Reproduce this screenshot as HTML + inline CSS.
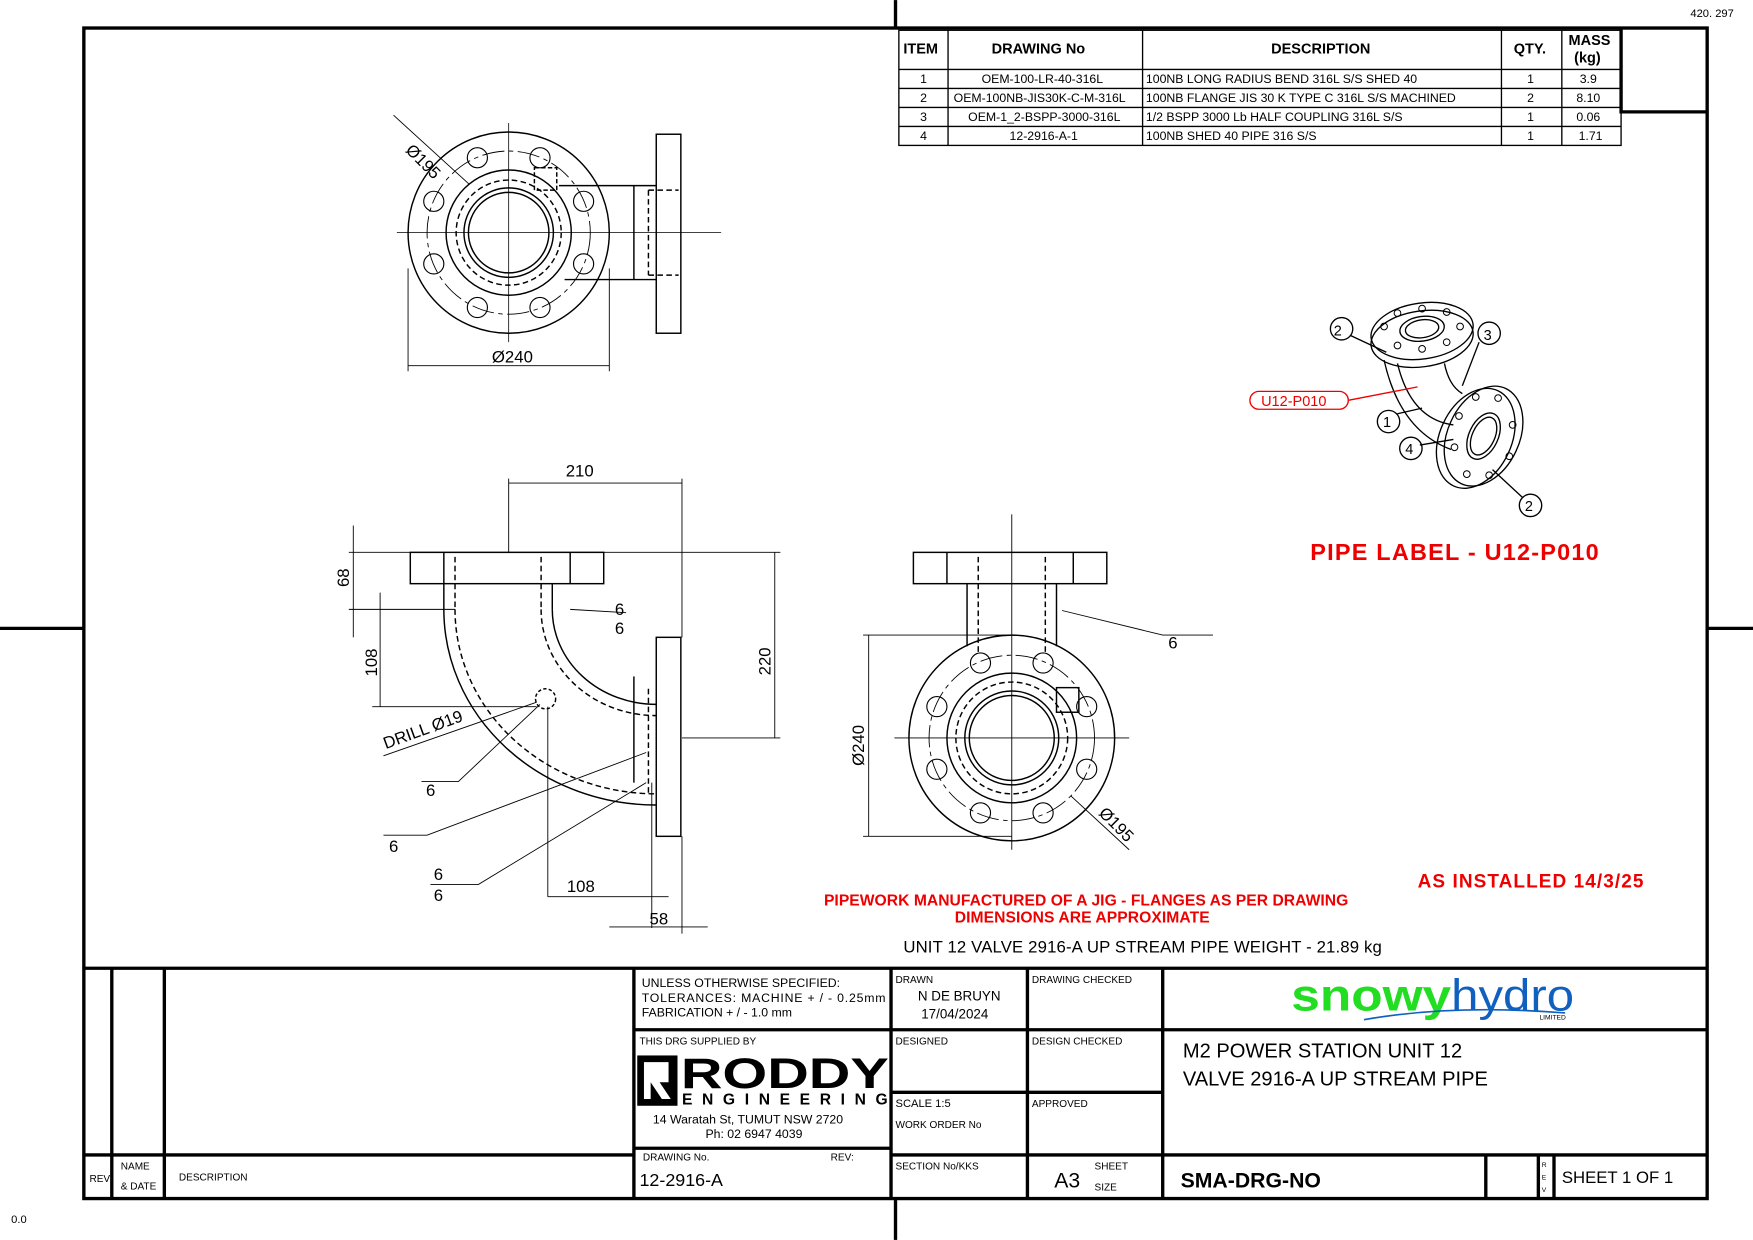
<!DOCTYPE html>
<html><head><meta charset="utf-8"><style>
html,body{margin:0;padding:0;background:#fff}
svg{display:block}
text{font-family:"Liberation Sans",sans-serif;fill:#000}
</style></head><body>
<svg width="1753" height="1240" viewBox="0 0 1568 1109" xmlns="http://www.w3.org/2000/svg">
<rect x="0" y="0" width="1568" height="1109" fill="#fff"/>
<g stroke="#000" fill="none">
<rect x="75" y="25" width="1452" height="1047" stroke-width="3"/>
<line x1="801" y1="0" x2="801" y2="25" stroke-width="3"/>
<line x1="801" y1="1072" x2="801" y2="1109" stroke-width="3"/>
<line x1="0" y1="562" x2="75" y2="562" stroke-width="3"/>
<line x1="1527" y1="562" x2="1568" y2="562" stroke-width="3"/>
<g stroke-width="1.2">
<rect x="804" y="27" width="646" height="103"/>
<line x1="804" y1="62" x2="1450" y2="62"/><line x1="804" y1="79" x2="1450" y2="79"/>
<line x1="804" y1="96" x2="1450" y2="96"/><line x1="804" y1="113" x2="1450" y2="113"/>
<line x1="848" y1="27" x2="848" y2="130"/><line x1="1022" y1="27" x2="1022" y2="130"/>
<line x1="1343" y1="27" x2="1343" y2="130"/><line x1="1397" y1="27" x2="1397" y2="130"/>
</g>
<path d="M1450 25 V100 H1527" stroke-width="3"/>
<g stroke-width="3">
<line x1="75" y1="866" x2="1527" y2="866"/>
<line x1="100" y1="866" x2="100" y2="1072"/><line x1="147" y1="866" x2="147" y2="1072"/>
<line x1="567" y1="866" x2="567" y2="1072"/><line x1="797" y1="866" x2="797" y2="1072"/>
<line x1="919" y1="866" x2="919" y2="1072"/><line x1="1040" y1="866" x2="1040" y2="1072"/>
<line x1="75" y1="1033" x2="567" y2="1033"/>
<line x1="567" y1="921" x2="1527" y2="921"/>
<line x1="567" y1="1027" x2="797" y2="1027"/>
<line x1="797" y1="977" x2="1040" y2="977"/>
<line x1="797" y1="1033" x2="1527" y2="1033"/>
<line x1="1329" y1="1033" x2="1329" y2="1072"/><line x1="1376" y1="1033" x2="1376" y2="1072"/>
<line x1="1390" y1="1033" x2="1390" y2="1072"/>
</g>
<g stroke-width="1.3">
<circle cx="455" cy="208" r="90"/>
<circle cx="455" cy="208" r="56"/>
<circle cx="455" cy="208" r="47" stroke-dasharray="5 3"/>
<circle cx="455" cy="208" r="40"/>
<circle cx="455" cy="208" r="36"/>
<circle cx="455" cy="208" r="73" stroke-dasharray="20 4 4 4" stroke-width="0.8"/>
<g stroke-width="1">
<circle cx="522" cy="180" r="9"/><circle cx="522" cy="236" r="9"/><circle cx="388" cy="180" r="9"/><circle cx="388" cy="236" r="9"/>
<circle cx="427" cy="141" r="9"/><circle cx="483" cy="141" r="9"/><circle cx="427" cy="275" r="9"/><circle cx="483" cy="275" r="9"/>
</g>
<line x1="455" y1="110" x2="455" y2="306" stroke-width="0.7"/>
<line x1="355" y1="208" x2="645" y2="208" stroke-width="0.7"/>
<rect x="587" y="120" width="22" height="178"/>
<line x1="500" y1="166" x2="587" y2="166"/><line x1="505" y1="250" x2="587" y2="250"/>
<line x1="567" y1="166" x2="567" y2="250"/>
<line x1="580" y1="170" x2="607" y2="170" stroke-dasharray="5 3"/><line x1="580" y1="246" x2="607" y2="246" stroke-dasharray="5 3"/>
<line x1="580" y1="170" x2="580" y2="246" stroke-dasharray="5 3"/>
<rect x="478" y="150" width="20" height="20" stroke-dasharray="4 2"/>
<line x1="352" y1="103" x2="420" y2="165" stroke-width="0.8"/>
<line x1="365" y1="240" x2="365" y2="332" stroke-width="0.8"/><line x1="545" y1="240" x2="545" y2="332" stroke-width="0.8"/>
<line x1="365" y1="327" x2="545" y2="327" stroke-width="0.8"/>
</g>
<g stroke-width="1.3">
<rect x="367" y="494" width="173" height="28"/>
<line x1="397" y1="494" x2="397" y2="522"/><line x1="510" y1="494" x2="510" y2="522"/>
<line x1="407" y1="498" x2="407" y2="545" stroke-dasharray="5 3"/><line x1="484" y1="498" x2="484" y2="545" stroke-dasharray="5 3"/>
<line x1="397" y1="522" x2="397" y2="545"/><line x1="494" y1="522" x2="494" y2="545"/>
<path d="M397 545 A190 175 0 0 0 587 720"/>
<path d="M494 545 A93 85 0 0 0 587 630"/>
<path d="M407 545 A180 165 0 0 0 587 710" stroke-dasharray="5 3"/>
<path d="M484 545 A103 95 0 0 0 587 640" stroke-dasharray="5 3"/>
<rect x="587" y="570" width="22" height="178"/>
<line x1="567" y1="605" x2="567" y2="700"/>
<line x1="580" y1="616" x2="580" y2="710" stroke-dasharray="5 3"/>
<circle cx="488" cy="625" r="9" stroke-dasharray="3 2"/>
</g>
<g stroke-width="0.8">
<line x1="455" y1="428" x2="455" y2="494"/><line x1="610" y1="428" x2="610" y2="570"/>
<line x1="455" y1="432" x2="610" y2="432"/>
<line x1="312" y1="494" x2="698" y2="494"/><line x1="312" y1="545" x2="407" y2="545"/>
<line x1="316" y1="470" x2="316" y2="570"/>
<line x1="340" y1="530" x2="340" y2="632"/><line x1="333" y1="632" x2="480" y2="632"/>
<line x1="610" y1="660" x2="698" y2="660"/><line x1="693" y1="494" x2="693" y2="660"/>
<line x1="343" y1="676" x2="480" y2="628"/>
<line x1="490" y1="632" x2="490" y2="802"/><line x1="583" y1="700" x2="583" y2="830"/>
<line x1="490" y1="802" x2="598" y2="802"/>
<line x1="545" y1="829" x2="633" y2="829"/><line x1="610" y1="748" x2="610" y2="835"/>
<path d="M377 699 H410 L483 630"/><path d="M343 747 H382 L578 673"/><path d="M385 791 H428 L578 700"/>
<path d="M510 545 L560 548"/>
</g>
<g stroke-width="1.3">
<rect x="817" y="494" width="173" height="28"/>
<line x1="847" y1="494" x2="847" y2="522"/><line x1="960" y1="494" x2="960" y2="522"/>
<line x1="865" y1="522" x2="865" y2="578"/><line x1="945" y1="522" x2="945" y2="578"/>
<line x1="875" y1="498" x2="875" y2="585" stroke-dasharray="5 3"/><line x1="935" y1="498" x2="935" y2="585" stroke-dasharray="5 3"/>
<circle cx="905" cy="660" r="92"/>
<circle cx="905" cy="660" r="58"/>
<circle cx="905" cy="660" r="50" stroke-dasharray="5 3"/>
<circle cx="905" cy="660" r="42"/><circle cx="905" cy="660" r="38"/>
<circle cx="905" cy="660" r="74" stroke-dasharray="20 4 4 4" stroke-width="0.8"/>
<g stroke-width="1">
<circle cx="972" cy="632" r="9"/><circle cx="972" cy="688" r="9"/><circle cx="838" cy="632" r="9"/><circle cx="838" cy="688" r="9"/>
<circle cx="877" cy="593" r="9"/><circle cx="933" cy="593" r="9"/><circle cx="877" cy="727" r="9"/><circle cx="933" cy="727" r="9"/>
</g>
<rect x="945" y="615" width="20" height="22"/>
</g>
<g stroke-width="0.8">
<line x1="905" y1="460" x2="905" y2="760"/><line x1="800" y1="660" x2="1010" y2="660"/>
<line x1="772" y1="568" x2="905" y2="568"/><line x1="772" y1="748" x2="905" y2="748"/>
<line x1="777" y1="568" x2="777" y2="748"/>
<path d="M950 546 L1040 568 H1085"/>
<line x1="958" y1="712" x2="1010" y2="760"/>
</g>
<!-- ISO -->
<g stroke-width="1.2">
<ellipse cx="1272" cy="296" rx="46" ry="25" transform="rotate(-8 1272 296)"/>
<ellipse cx="1272" cy="303" rx="46" ry="25" transform="rotate(-8 1272 303)"/>
<ellipse cx="1272" cy="294" rx="20" ry="11" transform="rotate(-8 1272 294)"/>
<ellipse cx="1272" cy="294" rx="15" ry="8" transform="rotate(-8 1272 294)"/>
<g stroke-width="0.9">
<circle cx="1238" cy="292" r="3"/><circle cx="1306" cy="292" r="3"/><circle cx="1250" cy="280" r="3"/><circle cx="1294" cy="279" r="3"/>
<circle cx="1250" cy="309" r="3"/><circle cx="1294" cy="306" r="3"/><circle cx="1272" cy="276" r="3"/><circle cx="1272" cy="312" r="3"/>
</g>
<ellipse cx="1327" cy="390" rx="32" ry="47" transform="rotate(25 1327 390)"/>
<ellipse cx="1320" cy="392" rx="32" ry="47" transform="rotate(25 1320 392)"/>
<ellipse cx="1327" cy="390" rx="13" ry="22" transform="rotate(25 1327 390)"/>
<ellipse cx="1327" cy="390" rx="10" ry="18" transform="rotate(25 1327 390)"/>
<g stroke-width="0.9">
<circle cx="1340" cy="356" r="3"/><circle cx="1353" cy="380" r="3"/><circle cx="1350" cy="408" r="3"/><circle cx="1332" cy="425" r="3"/>
<circle cx="1312" cy="424" r="3"/><circle cx="1301" cy="400" r="3"/><circle cx="1305" cy="372" r="3"/><circle cx="1320" cy="355" r="3"/>
</g>
<path d="M1238 322 Q1252 385 1298 402"/><path d="M1250 325 Q1262 375 1300 380"/>
<path d="M1292 325 Q1296 345 1308 352"/>
<line x1="1208" y1="300" x2="1240" y2="315"/><line x1="1323" y1="306" x2="1308" y2="345"/>
<line x1="1250" y1="370" x2="1272" y2="365"/><line x1="1270" y1="398" x2="1300" y2="393"/>
<line x1="1335" y1="420" x2="1362" y2="445"/>
<circle cx="1200" cy="294" r="10"/><circle cx="1332" cy="298" r="10"/><circle cx="1242" cy="377" r="10"/>
<circle cx="1262" cy="401" r="10"/><circle cx="1369" cy="452" r="10"/>
</g>
<g stroke="#e00" stroke-width="1.2"><rect x="1118" y="350" width="88" height="16" rx="8"/><line x1="1206" y1="358" x2="1268" y2="346"/></g>
</g>
<g font-size="11">
<text x="1512" y="15" font-size="10">420. 297</text>
<text x="10" y="1094" font-size="10">0.0</text>
<g font-size="13" font-weight="bold"><text x="808" y="48">ITEM</text><text x="887" y="48">DRAWING No</text><text x="1137" y="48">DESCRIPTION</text><text x="1354" y="48">QTY.</text><text x="1403" y="40">MASS</text><text x="1408" y="56">(kg)</text></g>
<text x="823" y="74">1</text><text x="878" y="74">OEM-100-LR-40-316L</text><text x="1025" y="74">100NB LONG RADIUS BEND 316L S/S SHED 40</text><text x="1366" y="74">1</text><text x="1413" y="74">3.9</text>
<text x="823" y="91">2</text><text x="853" y="91">OEM-100NB-JIS30K-C-M-316L</text><text x="1025" y="91">100NB FLANGE JIS 30 K TYPE C 316L S/S MACHINED</text><text x="1366" y="91">2</text><text x="1410" y="91">8.10</text>
<text x="823" y="108">3</text><text x="866" y="108">OEM-1_2-BSPP-3000-316L</text><text x="1025" y="108">1/2 BSPP 3000 Lb HALF COUPLING 316L S/S</text><text x="1366" y="108">1</text><text x="1410" y="108">0.06</text>
<text x="823" y="125">4</text><text x="903" y="125">12-2916-A-1</text><text x="1025" y="125">100NB SHED 40 PIPE 316 S/S</text><text x="1366" y="125">1</text><text x="1412" y="125">1.71</text>
</g>
<g font-size="15">
<text x="362" y="135" transform="rotate(45 362 135)">Ø195</text>
<text x="440" y="324">Ø240</text>
<text x="506" y="426">210</text>
<text x="312" y="525" transform="rotate(-90 312 525)">68</text>
<text x="337" y="605" transform="rotate(-90 337 605)">108</text>
<text x="689" y="604" transform="rotate(-90 689 604)">220</text>
<text x="345" y="670" transform="rotate(-20 345 670)">DRILL Ø19</text>
<text x="550" y="550">6</text><text x="550" y="567">6</text>
<text x="381" y="712">6</text><text x="348" y="762">6</text>
<text x="388" y="787">6</text><text x="388" y="806">6</text>
<text x="507" y="798">108</text><text x="581" y="827">58</text>
<text x="773" y="685" transform="rotate(-90 773 685)">Ø240</text>
<text x="982" y="728" transform="rotate(45 982 728)">Ø195</text>
<text x="1045" y="580">6</text>
<text x="1193" y="300" font-size="13">2</text><text x="1327" y="304" font-size="13">3</text><text x="1237" y="382" font-size="13">1</text><text x="1257" y="406" font-size="13">4</text><text x="1364" y="457" font-size="13">2</text>
<text x="1128" y="363" font-size="13" style="fill:#e00">U12-P010</text>
</g>
<g font-weight="bold">
<text x="1172" y="501" font-size="21" style="fill:#e00" textLength="258">PIPE LABEL - U12-P010</text>
<text x="1268" y="794" font-size="17" style="fill:#e00" textLength="202">AS INSTALLED 14/3/25</text>
<text x="737" y="810" font-size="14" style="fill:#e00" textLength="469">PIPEWORK MANUFACTURED OF A JIG - FLANGES AS PER DRAWING</text>
<text x="854" y="825" font-size="14" style="fill:#e00" textLength="228">DIMENSIONS ARE APPROXIMATE</text>
</g>
<text x="808" y="852" font-size="15" textLength="428">UNIT 12 VALVE 2916-A UP STREAM PIPE WEIGHT - 21.89 kg</text>
<g font-size="11">
<text x="574" y="883">UNLESS OTHERWISE SPECIFIED:</text>
<text x="574" y="896" textLength="218">TOLERANCES: MACHINE + / - 0.25mm</text>
<text x="574" y="909">FABRICATION + / - 1.0 mm</text>
<text x="801" y="879" font-size="9">DRAWN</text>
<text x="821" y="895" font-size="12">N DE BRUYN</text><text x="824" y="911" font-size="12">17/04/2024</text>
<text x="923" y="879" font-size="9">DRAWING CHECKED</text>
<text x="572" y="934" font-size="9">THIS DRG SUPPLIED BY</text>
<text x="801" y="934" font-size="9">DESIGNED</text><text x="923" y="934" font-size="9">DESIGN CHECKED</text>
<text x="801" y="990" font-size="10">SCALE  1:5</text><text x="801" y="1009" font-size="9">WORK ORDER No</text>
<text x="923" y="990" font-size="9">APPROVED</text>
<text x="575" y="1038" font-size="9">DRAWING No.</text><text x="743" y="1038" font-size="9">REV:</text>
<text x="572" y="1061" font-size="16">12-2916-A</text>
<text x="801" y="1046" font-size="9">SECTION No/KKS</text>
<text x="943" y="1062" font-size="19">A3</text><text x="979" y="1046" font-size="9">SHEET</text><text x="979" y="1065" font-size="9">SIZE</text>
<text x="1056" y="1062" font-size="19" font-weight="bold">SMA-DRG-NO</text>
<text x="1397" y="1058" font-size="15">SHEET 1 OF 1</text>
<text x="1379" y="1044" font-size="6">R</text><text x="1379" y="1055" font-size="6">E</text><text x="1379" y="1066" font-size="6">V</text>
<text x="80" y="1057" font-size="9">REV</text><text x="108" y="1046" font-size="9">NAME</text><text x="108" y="1064" font-size="9">&amp; DATE</text>
<text x="160" y="1056" font-size="9">DESCRIPTION</text>
<text x="1058" y="946" font-size="18">M2 POWER STATION UNIT 12</text>
<text x="1058" y="971" font-size="18">VALVE 2916-A UP STREAM PIPE</text>
<text x="584" y="1005">14 Waratah St, TUMUT NSW 2720</text>
<text x="631" y="1018">Ph: 02 6947 4039</text>
</g>
<rect x="570" y="944" width="36" height="45" fill="#000"/>
<path d="M576 950 H598 V968 H590 L600 983 H592 L582 968 V983 H576 Z" fill="#fff"/>
<text x="609" y="973" font-size="38" font-weight="bold" textLength="186" lengthAdjust="spacingAndGlyphs">RODDY</text>
<text x="610" y="988" font-size="14" font-weight="bold" textLength="184">ENGINEERING</text>
<text x="1155" y="904" font-size="40" font-weight="bold" style="fill:#22dd22" textLength="143" lengthAdjust="spacingAndGlyphs">snowy</text>
<text x="1298" y="904" font-size="40" style="fill:#1060c0" textLength="110" lengthAdjust="spacingAndGlyphs">hydro</text>
<text x="1377" y="912" font-size="6">LIMITED</text>
<path d="M1220 912 Q1300 898 1400 906" stroke="#1060c0" fill="none" stroke-width="1.5"/>
</svg>
</body></html>
